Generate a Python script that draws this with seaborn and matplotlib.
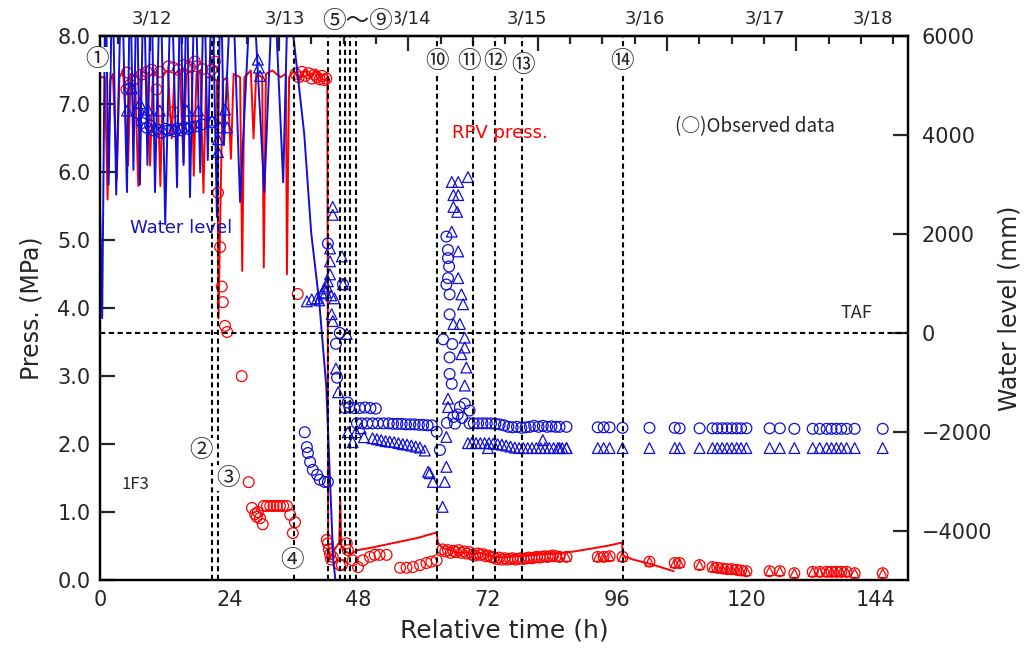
import numpy as np
import matplotlib
matplotlib.use("Agg")
import matplotlib.pyplot as plt
import seaborn as sns
from matplotlib.ticker import FixedLocator

# ---- calculated RPV pressure (h, MPa)
rpv_t = [0, 0.9, 1.4, 1.9, 2.4, 3.1, 3.6, 4.3, 5.2, 5.7, 6.5, 7.1, 7.6, 8.6, 9.3, 9.8,
         10.6, 11.2, 11.7, 12.6, 13.3, 13.8, 14.8, 15.5, 16.0, 17.0, 17.4, 17.9, 18.6,
         19.2, 19.7, 20.7, 21.7, 22.0, 22.4, 22.8, 23.6, 24.3, 24.8, 26.0, 26.4, 26.8,
         28.0, 28.5, 29.0, 30.1, 30.4, 30.8, 32.0, 33.5, 34.5, 34.7, 35.1, 36.0, 37.0,
         38.0, 39.0, 40.0, 41.0, 42.2, 42.35, 42.6, 43.3, 44.4, 44.6, 44.8, 45.6, 46.5,
         47.8, 50.0, 53.0, 56.0, 59.0, 62.5, 62.7, 63.6, 65.0, 66.5, 68.0, 69.2, 70.5,
         72.0, 73.5, 75.0, 77.0, 79.0, 82.0, 85.0, 88.0, 91.0, 94.0, 96.9, 97.1, 99.0,
         102.0, 106.5]
rpv_p = [7.4, 7.4, 5.6, 7.35, 7.45, 5.9, 7.4, 7.5, 6.1, 7.45, 7.4, 5.8, 7.5, 7.45, 6.1, 7.4,
         7.5, 5.8, 7.45, 7.5, 6.5, 7.45, 7.5, 6.15, 7.45, 7.5, 5.95, 7.45, 7.5,
         5.7, 7.4, 7.4, 7.35, 3.85, 5.7, 7.35, 7.4, 6.2, 7.45, 7.4, 4.55, 7.4,
         7.5, 6.5, 7.45, 7.4, 4.6, 7.45, 7.5, 7.4, 7.45, 4.5, 7.4, 7.5, 7.35,
         7.5, 7.4, 7.5, 7.38, 7.35, 0.55, 0.3, 0.42, 0.55, 1.17, 0.48, 0.42, 0.38,
         0.44, 0.47, 0.52, 0.57, 0.62, 0.70, 0.55, 0.47, 0.44, 0.40, 0.41, 0.37, 0.40,
         0.36, 0.34, 0.33, 0.35, 0.36, 0.38, 0.39, 0.42, 0.46, 0.50, 0.55, 0.36, 0.30,
         0.24, 0.13]

# ---- calculated water level (h, mm)
wl_t = [0.0, 0.4, 1.0, 1.6, 2.3, 3.0, 4.0, 5.0, 5.6, 6.2, 6.8, 7.4, 8.1, 8.8, 9.5, 10.2,
        11.2, 12.1, 13.2, 14.3, 14.9, 15.5, 16.1, 16.7, 17.6, 18.6, 19.3, 20.0, 20.8,
        21.7, 22.4, 23.0, 24.5, 26.0, 28.2, 30.5, 32.2, 34.0, 35.0, 35.9, 37.9, 39.2,
        40.7, 42.0, 42.7, 43.3, 44.0]
wl_mm = [2500, 300, 7500, 3000, 7500, 2800, 7500, 2850, 7500, 3300, 7500, 3000, 7500,
         3400, 7500, 2850, 7500, 2200, 7500, 2950, 7500, 3400, 7500, 2750, 7500, 3250,
         7500, 3500, 7500, 2350, 7500, 3800, 7500, 2650, 7500, 2850, 7500, 3050, 7500,
         6000, 4036, 2028, 622, -1084, -2990, -4600, -5300]

# ---- observed RPV pressure (circles)
obs_p_t = [4.9, 5.0, 5.6, 6.2, 7.7, 8.7, 9.6, 10.5, 11.1, 12.7, 13.6, 13.6, 14.5, 15.5,
           16.7, 17.6, 17.9, 19.0, 20.7, 21.3, 21.9, 22.3, 22.6, 22.8, 23.2, 23.6,
           26.3, 27.6, 28.2, 28.8, 29.1, 29.3, 29.7, 30.2, 30.4, 31.0, 31.6, 32.2,
           32.8, 33.4, 34.0, 34.7, 35.3, 36.2, 35.8, 36.7,
           36.3, 36.9, 37.5, 38.1, 38.7, 39.3, 39.8, 40.3, 40.8, 41.2, 41.6, 42.0,
           42.1, 42.3, 42.5, 42.7, 42.9, 43.2, 44.5, 44.9, 45.8, 46.0, 46.9, 47.9,
           48.8, 50.1, 51.0, 51.9, 53.2, 55.7, 56.9, 58.1, 59.4, 60.6, 61.5, 62.5,
           63.6, 64.1, 64.6, 65.1, 65.6, 66.1, 66.6, 67.1, 67.6, 68.1, 68.6, 69.1,
           69.6, 70.1, 70.6, 71.1, 71.6, 72.1, 72.6, 73.1, 73.6, 74.1, 74.6, 75.1,
           75.6, 76.1, 76.6, 77.1, 77.6, 78.1, 78.6, 79.1, 79.6, 80.1, 80.6, 81.1,
           81.6, 82.1, 82.6, 83.1, 83.6, 84.1, 84.6]
obs_p = [7.22, 7.47, 7.29, 7.36, 7.44, 7.48, 7.51, 7.22, 7.48, 7.56, 7.54, 6.89, 7.51, 7.58,
         7.55, 7.63, 7.56, 7.52, 7.51, 7.63, 5.70, 4.90, 4.32, 4.09, 3.74, 3.65,
         3.00, 1.44, 1.06, 0.97, 0.93, 1.00, 0.91, 0.82, 1.09, 1.09, 1.09, 1.09,
         1.09, 1.09, 1.09, 1.09, 0.96, 0.85, 0.69, 4.21,
         7.45, 7.40, 7.48, 7.42, 7.46, 7.38, 7.44, 7.40, 7.37, 7.42, 7.36, 7.38,
         0.59, 0.54, 0.45, 0.38, 0.30, 0.34, 0.22, 0.22, 0.54, 0.44, 0.29, 0.19,
         0.29, 0.34, 0.37, 0.37, 0.37, 0.18, 0.18, 0.19, 0.22, 0.25, 0.27, 0.29,
         0.45, 0.42, 0.44, 0.40, 0.43, 0.41, 0.44, 0.40, 0.42, 0.39, 0.41, 0.37,
         0.36, 0.39, 0.37, 0.38, 0.35, 0.36, 0.34, 0.33, 0.31, 0.33, 0.30, 0.32,
         0.30, 0.31, 0.32, 0.30, 0.31, 0.32, 0.31, 0.32, 0.33, 0.32, 0.33, 0.34,
         0.33, 0.34, 0.35, 0.34, 0.35, 0.36, 0.35]

# late observations (pressure circles with triangles, both water levels)
late_t = [85.3, 86.6, 92.4, 93.5, 94.6, 97.0, 102.0, 106.7, 107.6, 111.3, 113.7, 114.6,
          115.5, 116.4, 117.3, 118.2, 119.0, 120.0, 124.3, 126.2, 128.9, 132.3, 133.6,
          134.9, 135.8, 136.7, 137.6, 138.6, 140.1, 145.3]
late_p = [0.34, 0.34, 0.34, 0.34, 0.35, 0.34, 0.27, 0.25, 0.25, 0.22, 0.19, 0.18,
          0.17, 0.16, 0.16, 0.15, 0.14, 0.13, 0.13, 0.13, 0.10, 0.12, 0.12,
          0.12, 0.12, 0.12, 0.12, 0.12, 0.10, 0.10]
late_wl_a = [-1900, -1900, -1910, -1910, -1910, -1920, -1920, -1920, -1930,
             -1930, -1930, -1930, -1930, -1930, -1930, -1930, -1930, -1930, -1930, -1930,
             -1940, -1940, -1940, -1940, -1940, -1940, -1940, -1940, -1940, -1940]
late_wl_b = [-2330, -2330, -2330, -2330, -2330, -2330, -2330, -2330, -2330, -2330,
             -2330, -2330, -2330, -2330, -2330, -2330, -2330, -2330, -2330, -2330,
             -2330, -2330, -2330, -2330, -2330, -2330, -2330, -2330, -2330, -2330]

# ---- observed water level, fuel range A (circles)
wla_t = [5.6, 7.1, 7.8, 8.3, 8.7, 9.3, 9.9, 10.6, 11.4, 12.1, 12.7, 13.3, 13.9, 14.5,
         15.1, 15.7, 16.3, 16.9, 17.8, 18.9, 20.8,
         38.0, 38.4, 38.6, 39.0, 39.5, 40.3, 40.8, 41.7, 42.3, 42.3, 45.1, 44.5, 43.8,
         44.0, 46.0, 45.5, 46.3, 47.2, 48.2, 49.2, 50.2, 51.2,
         47.7, 48.6, 49.6, 50.6, 51.6, 52.6, 53.6, 54.4, 55.2, 56.0, 56.8, 57.6, 58.4,
         59.2, 60.0, 60.8, 61.6, 62.5, 63.1,
         64.3, 64.6, 64.6, 64.8, 64.6, 64.3, 64.9, 64.9, 63.7, 65.4, 64.9, 64.9, 65.3,
         66.8, 67.7, 68.6, 65.9, 64.4, 65.6, 66.4, 67.2,
         68.6, 69.4, 70.2, 71.0, 71.8, 72.6, 73.4, 74.2, 75.0, 75.8, 76.6, 77.4, 78.2,
         79.0, 79.8, 80.6, 81.4, 82.2, 83.0, 83.8, 84.6]
wla_mm = [4950, 4450, 4250, 4350, 4150, 4200, 4100, 4120, 4050, 4130, 4100, 4120, 4080,
          4140, 4100, 4160, 4130, 4160, 4180, 4220, 4260,
          -2010, -2310, -2430, -2610, -2770, -2870, -2970, -3015, -3015, 1810, 985, 0,
          -220, -905, -1410, -1520, -1500, -1520, -1520, -1510, -1520, -1530,
          -1830, -1830, -1830, -1830, -1830, -1830, -1830, -1840, -1840, -1840, -1850,
          -1850, -1850, -1860, -1860, -1870, -1870, -2000, -2370,
          1950, 1680, 1515, 1345, 1110, 980, 780, 375, -130, -225, -495, -830, -1030,
          -1500, -1430, -1570, -1835, -1820, -1700, -1650, -1720,
          -1830, -1830, -1830, -1830, -1830, -1830, -1840, -1850, -1870, -1900, -1910,
          -1900, -1920, -1910, -1900, -1880, -1900, -1880, -1900, -1890, -1900]

# ---- observed water level, fuel range B (triangles)
wlb_t = [5.0, 5.9, 7.4, 8.9, 11.1, 16.1, 18.2, 20.8, 21.9, 21.9, 22.3, 23.6, 23.2,
         29.3, 29.5, 29.7,
         38.4, 39.3, 40.3, 41.2, 41.7, 42.3, 42.7, 42.7, 42.7, 43.2, 43.2, 44.9, 45.1,
         43.0, 43.2, 45.8, 43.8, 44.2, 40.7, 41.9, 42.9, 43.5, 42.1,
         46.0, 46.9, 47.5, 48.4, 49.0, 50.6, 51.4, 52.2, 53.0, 53.8, 54.6, 55.4, 56.2,
         57.0, 57.8, 58.6, 59.4, 60.3, 60.9, 61.8, 61.2,
         65.3, 66.5, 68.3, 65.6, 66.5, 65.6, 66.3, 65.3, 66.5, 66.5, 67.1, 67.4, 65.6,
         66.8, 67.7, 67.7, 67.1, 68.0, 67.7, 64.6, 64.6, 64.3, 64.3, 64.0, 63.6,
         68.3, 69.0, 69.8, 70.6, 71.4, 72.0, 72.2, 73.0, 73.8, 74.6, 75.4, 76.2, 77.0,
         77.8, 78.6, 79.4, 80.2, 81.0, 81.8, 82.2, 82.6, 83.4, 84.2, 85.0, 85.8, 86.6]
wlb_mm = [4500, 4950, 4650, 4520, 4500, 4500, 4500, 4300, 3920, 3660, 4160, 4160, 4520,
          5530, 5370, 5200,
          640, 680, 700, 800, 900, 1045, 1185, 1450, 1710, 2390, 2550, 1550, 985,
          380, 240, -20, -720, -1200, 660, 820, 760, 700, 940,
          -2010, -2210, -2010, -1930, -2110, -2130, -2150, -2170, -2190, -2200, -2210,
          -2230, -2250, -2260, -2280, -2300, -2320, -2380, -2810, -3015, -2840,
          3055, 3055, 3155, 2790, 2790, 2550, 2450, 2050, 1650, 1110, 780, 580, 180,
          180, -95, -295, -430, -700, -1065, -1330, -1500, -2105, -2710, -3015, -3520,
          -2230, -2230, -2230, -2230, -2230, -2330, -2230, -2240, -2250, -2260, -2280,
          -2300, -2320, -2330, -2330, -2330, -2330, -2330, -2330, -2170, -2330, -2330,
          -2330, -2330, -2330, -2330]

# ---- events
event_t = [0.0, 20.8, 21.9, 36.0, 42.3, 44.5, 45.5, 46.4, 47.5, 62.5, 69.2, 73.3, 78.3, 97.0]
event_lbl = ["①", "②", "③", "④", "⑤～⑨", "⑩", "⑪", "⑫", "⑬", "⑭"]
event_lbl_x = [-0.6, 18.7, 23.7, 35.6, 47.9, 62.5, 68.5, 73.3, 78.5, 97.0]
event_lbl_y = [7.66, 1.91, 1.50, 0.28, 8.22, 7.63, 7.63, 7.63, 7.58, 7.63]

days = ["3/12", "3/13", "3/14", "3/15", "3/16", "3/17", "3/18"]
day_lbl_x = [9.6, 34.3, 57.8, 79.2, 101.1, 123.4, 143.4]
day_ticks = [9.25, 33.25, 57.25, 81.25, 105.25, 129.25]
hour_ticks = [3.25, 15.25, 21.25, 27.25, 39.25, 45.25, 51.25, 63.25, 69.25, 75.25,
              87.25, 93.25, 99.25, 111.25, 117.25, 123.25, 135.25, 141.25, 147.25]

sns.set_style("white")
plt.rcParams["font.family"] = ["DejaVu Sans", "Noto Sans CJK JP"]
plt.rcParams["axes.unicode_minus"] = True
JP = ["Noto Sans CJK JP", "DejaVu Sans"]

RED = "#ff0000"
BLUE = "#1010d8"

fig = plt.figure(figsize=(10.26, 6.55), dpi=100)
ax = fig.add_axes([0.0975, 0.1145, 0.7875, 0.8298])
ax2 = ax.twinx()

# pressure side
sns.lineplot(x=rpv_t, y=rpv_p, ax=ax, color=RED, lw=1.4, estimator=None, sort=False)
sns.scatterplot(x=obs_p_t, y=obs_p, ax=ax, marker="o", s=60, facecolor="none",
                edgecolor=RED, linewidth=0.9)
sns.scatterplot(x=late_t, y=late_p, ax=ax, marker="o", s=60, facecolor="none",
                edgecolor=RED, linewidth=0.9)
sns.scatterplot(x=late_t, y=late_p, ax=ax, marker="^", s=40, facecolor="none",
                edgecolor=RED, linewidth=0.9)

# water level side
sns.lineplot(x=wl_t, y=wl_mm, ax=ax2, color=BLUE, lw=1.4, estimator=None, sort=False)
sns.scatterplot(x=wla_t, y=wla_mm, ax=ax2, marker="o", s=60, facecolor="none",
                edgecolor=BLUE, linewidth=0.9, zorder=3)
sns.scatterplot(x=late_t, y=late_wl_a, ax=ax2, marker="o", s=60, facecolor="none",
                edgecolor=BLUE, linewidth=0.9, zorder=3)
sns.scatterplot(x=wlb_t, y=wlb_mm, ax=ax2, marker="^", s=60, facecolor="none",
                edgecolor=BLUE, linewidth=0.9, zorder=3)
sns.scatterplot(x=late_t, y=late_wl_b, ax=ax2, marker="^", s=60, facecolor="none",
                edgecolor=BLUE, linewidth=0.9, zorder=3)

dash = (0, (2.5, 1.7))
for t in event_t:
    ax2.axvline(t, color="k", ls=dash, lw=1.5, zorder=5)
ax2.axhline(0, color="k", ls=dash, lw=1.5, zorder=5)

ax.set_xlim(0, 150)
ax.set_ylim(0, 8)
ax2.set_ylim(-5000, 6000)

ax.set_xticks(range(0, 145, 24))
ax.xaxis.set_minor_locator(FixedLocator(range(6, 150, 6)))
ax.set_yticks(range(0, 9))
ax.set_yticklabels([f"{v:.1f}" for v in range(0, 9)])
ax2.set_yticks(range(-4000, 6001, 2000))

ax.tick_params(axis="both", which="major", direction="in", length=11, width=1.6,
               labelsize=15, pad=7, top=False, right=False)
ax.tick_params(axis="x", which="minor", direction="in", length=6, width=1.6,
               top=False)
ax2.tick_params(axis="y", which="major", direction="in", length=11, width=1.6,
                labelsize=15, pad=10)

sec = ax2.secondary_xaxis("top")
sec.set_xticks(day_ticks)
sec.set_xticklabels([])
sec.xaxis.set_minor_locator(FixedLocator(hour_ticks))
sec.tick_params(which="major", direction="in", length=11, width=1.6)
sec.tick_params(which="minor", direction="in", length=6, width=1.6)
for s in sec.spines.values():
    s.set_linewidth(1.6)

for a in (ax, ax2):
    for s in a.spines.values():
        s.set_linewidth(1.6)
        s.set_color("k")

ax.set_xlabel("Relative time (h)", fontsize=18, labelpad=6)
ax.set_ylabel("Press. (MPa)", fontsize=17, labelpad=10)
ax2.set_ylabel("Water level (mm)", fontsize=17, labelpad=4)

# texts drawn on the top-most axes, placed in pressure coordinates
tr = ax.transData
for lbl, x in zip(days, day_lbl_x):
    ax2.text(x, 8.27, lbl, transform=tr, fontsize=13, ha="center", va="center",
             clip_on=False, zorder=8)
for lbl, x, y in zip(event_lbl, event_lbl_x, event_lbl_y):
    ax2.text(x, y, lbl, transform=tr, fontsize=17, family=JP, ha="center",
             va="center", clip_on=False, zorder=10,
             bbox=dict(boxstyle="square,pad=0.05", fc="white", ec="none"))

ax2.text(65.3, 6.58, "RPV press.", transform=tr, fontsize=13, color=RED,
         ha="left", va="center", zorder=10)
ax2.text(5.6, 5.18, "Water level", transform=tr, fontsize=13, color="#1515c0",
         ha="left", va="center", zorder=10)
ax2.text(106.7, 6.67, "(○)Observed data", transform=tr, fontsize=13.5, family=JP,
         ha="left", va="center", zorder=10)
ax2.text(140.4, 3.93, "TAF", transform=tr, fontsize=13, family=JP, ha="center",
         va="center", zorder=10)
ax2.text(6.5, 1.40, "1F3", transform=tr, fontsize=12, family=JP, ha="center",
         va="center", zorder=10)

fig.savefig("out.png", dpi=100)
